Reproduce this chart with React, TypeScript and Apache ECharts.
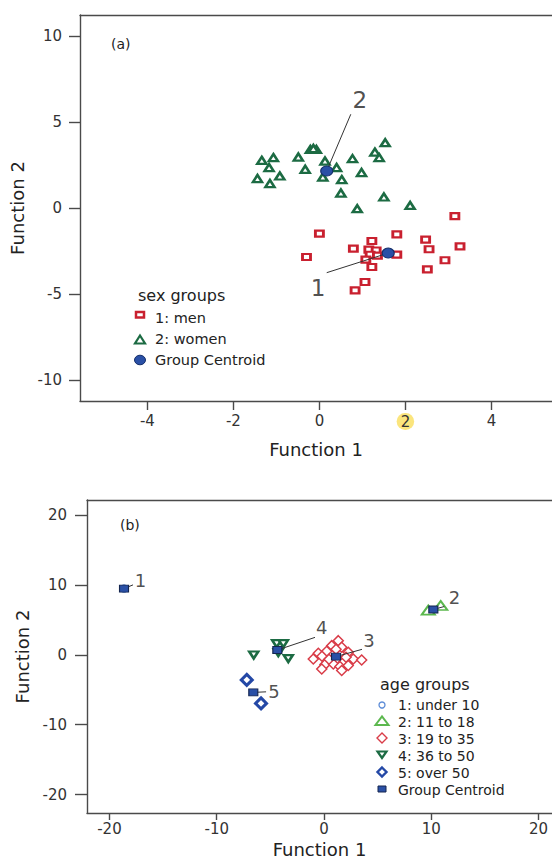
import React, { useEffect, useRef } from 'react';
import * as echarts from 'echarts';

type Pt = [number, number];

// ---- (a) sex groups: discriminant function scores ----
const menScores: Pt[] = [
  [3.15, -0.45], [0.0, -1.47], [0.79, -2.34], [1.22, -1.9], [1.8, -1.51], [2.47, -1.82],
  [2.55, -2.38], [3.27, -2.21], [-0.3, -2.83], [1.15, -2.4], [1.32, -2.45], [1.18, -2.7],
  [1.35, -2.75], [1.08, -2.98], [1.8, -2.69], [1.22, -3.41], [2.92, -3.02], [2.51, -3.55],
  [1.06, -4.28], [0.83, -4.77],
];
const womenScores: Pt[] = [
  [-1.34, 2.79], [-1.07, 2.95], [-1.17, 2.37], [-1.44, 1.73], [-0.92, 1.88], [-1.15, 1.44],
  [-0.49, 2.98], [-0.21, 3.42], [-0.07, 3.42], [-0.14, 3.48], [-0.33, 2.27], [0.13, 2.75],
  [0.4, 2.37], [0.08, 1.82], [0.52, 1.67], [0.77, 2.89], [0.98, 2.08], [1.29, 3.27],
  [1.39, 2.95], [1.53, 3.82], [0.5, 0.89], [0.88, -0.02], [1.5, 0.66], [2.11, 0.17],
];
const sexCentroids: Pt[] = [[1.6, -2.6], [0.17, 2.17]];
const sexCentroidNames = ['1', '2'];
const sexLabelAt: Pt[] = [[-0.03, -4.65], [0.94, 6.28]];
const sexLeaderFrom: Pt[] = [[0.17, -3.74], [0.73, 5.47]];
const sexTicksX = [-4, -2, 0, 2, 4];
const sexTicksY = [-10, -5, 0, 5, 10];

// ---- (b) age groups: discriminant function scores ----
const under10Scores: Pt[] = [[-18.64, 9.47]];
const age11to18Scores: Pt[] = [[9.72, 6.38], [10.88, 7.05]];
const age19to35Scores: Pt[] = [
  [1.33, 2.02], [0.72, 1.31], [1.65, 1.07], [0.25, 0.5], [-0.53, 0.21], [-1.0, -0.6],
  [2.26, 0.36], [2.73, -0.6], [3.51, -0.74], [1.8, -1.07], [0.09, -1.4], [0.87, -1.31],
  [-0.21, -2.02], [1.49, -1.68], [1.65, -2.25], [2.26, -1.54], [-0.19, -0.21], [1.12, 0.78],
  [0.47, -0.64], [2.05, -0.36],
];
const age36to50Scores: Pt[] = [[-4.41, 1.59], [-3.79, 1.59], [-4.26, 0.31], [-3.33, -0.54], [-6.55, -0.03]];
const over50Scores: Pt[] = [[-7.2, -3.59], [-5.87, -6.95]];
const ageCentroids: Pt[] = [[-18.64, 9.47], [10.19, 6.48], [1.12, -0.26], [-4.35, 0.68], [-6.59, -5.38]];
const ageCentroidNames = ['1', '2', '3', '4', '5'];
const ageLabelAt: Pt[] = [[-17.1, 10.6], [12.15, 8.14], [4.19, 2.11], [-0.21, 3.87], [-4.66, -5.24]];
const ageLeaderFrom: Pt[] = [[-17.8, 10.0], [11.2, 6.9], [3.54, 0.78], [-0.84, 2.49], [-5.4, -5.3]];
const ageTicksX = [-20, -10, 0, 10, 20];
const ageTicksY = [-20, -10, 0, 10, 20];

const FONT = '"DejaVu Sans", sans-serif';
const INK = '#222';
const AXIS = { color: '#4a4a4a', width: 1.4 };

const RED = '#c9202f';
const DKGREEN = '#1c6b43';
const CENTROID_BLUE = '#2a50a6';
const LTBLUE = '#5a8ad6';
const LTGREEN = '#5cb84e';
const PINKRED = '#d93c48';
const ROYAL = '#2448a6';

function bottomAxis(grid: number, min: number, max: number, ticks: number[], tickLen: number, margin: number, nameGap: number, extraLabel?: any) {
  return {
    type: 'value', gridIndex: grid, min, max, position: 'bottom',
    axisLine: { show: true, onZero: false, lineStyle: AXIS },
    axisTick: { show: true, length: tickLen, customValues: ticks, lineStyle: AXIS },
    axisLabel: { customValues: ticks, margin, fontSize: 15, color: '#333', fontFamily: FONT, ...(extraLabel || {}) },
    splitLine: { show: false },
    name: 'Function 1', nameLocation: 'middle', nameGap,
    nameTextStyle: { fontSize: 18, color: INK, fontFamily: FONT },
  };
}
function topAxis(grid: number, min: number, max: number) {
  return {
    type: 'value', gridIndex: grid, min, max, position: 'top',
    axisLine: { show: true, onZero: false, lineStyle: AXIS },
    axisTick: { show: false }, axisLabel: { show: false }, splitLine: { show: false },
  };
}
function leftAxis(grid: number, min: number, max: number, ticks: number[], tickLen: number, margin: number, nameGap: number) {
  return {
    type: 'value', gridIndex: grid, min, max,
    axisLine: { show: true, onZero: false, lineStyle: AXIS },
    axisTick: { show: true, length: tickLen, customValues: ticks, lineStyle: AXIS },
    axisLabel: { customValues: ticks, margin, fontSize: 15, color: '#333', fontFamily: FONT },
    splitLine: { show: false },
    name: 'Function 2', nameLocation: 'middle', nameGap, nameRotate: 90,
    nameTextStyle: { fontSize: 18, color: INK, fontFamily: FONT },
  };
}

function leaders(xi: number, yi: number, from: Pt[], to: Pt[]) {
  return {
    type: 'lines', coordinateSystem: 'cartesian2d', xAxisIndex: xi, yAxisIndex: yi, silent: true, z: 3,
    lineStyle: { color: '#333', width: 1, opacity: 1 },
    data: from.map((p, i) => ({ coords: [p, to[i]] })),
  };
}
function labels(xi: number, yi: number, at: Pt[], names: string[], size: number) {
  return {
    type: 'scatter', name: 'centroid labels', xAxisIndex: xi, yAxisIndex: yi, silent: true, z: 6,
    symbolSize: 1, itemStyle: { color: 'rgba(0,0,0,0)' },
    label: { show: true, position: 'inside', formatter: '{b}', fontSize: size, color: INK, fontFamily: FONT },
    data: at.map((p, i) => ({ name: names[i], value: p })),
  };
}

function txt(x: number, y: number, text: string, size: number) {
  return {
    type: 'text', x, y, silent: true,
    style: { text, fill: INK, font: `${size}px ${FONT}`, align: 'left', verticalAlign: 'middle', textAlign: 'left', textVerticalAlign: 'middle' },
  };
}

const option: any = {
  animation: false,
  backgroundColor: '#fff',
  grid: [
    { left: 80, top: 15, width: 472, height: 386 },
    { left: 87, top: 500, width: 465, height: 314 },
  ],
  xAxis: [
    bottomAxis(0, -5.567, 5.409, sexTicksX, 9, 12, 39, {
      formatter: (v: number) => (v === 2 ? '{hl|2}' : String(v)),
      rich: { hl: { backgroundColor: '#fbe57d', borderRadius: 9, padding: [1, 4], fontSize: 15, color: '#333', fontFamily: FONT } },
    }),
    topAxis(0, -5.567, 5.409),
    bottomAxis(1, -22.09, 21.25, ageTicksX, 7, 8, 27),
    topAxis(1, -22.09, 21.25),
  ],
  yAxis: [
    leftAxis(0, -11.2, 11.24, sexTicksY, 11, 18, 49),
    leftAxis(1, -22.63, 22.14, ageTicksY, 12, 20, 56),
  ],
  series: [
    {
      type: 'scatter', name: '1: men', xAxisIndex: 0, yAxisIndex: 0, z: 2,
      symbol: 'rect', symbolSize: [8, 6],
      itemStyle: { color: '#fff', borderColor: RED, borderWidth: 2.5, opacity: 1 },
      data: menScores,
    },
    {
      type: 'scatter', name: '2: women', xAxisIndex: 0, yAxisIndex: 0, z: 2,
      symbol: 'triangle', symbolSize: [9, 7],
      itemStyle: { color: '#fff', borderColor: DKGREEN, borderWidth: 2.5, opacity: 1 },
      data: womenScores,
    },
    leaders(0, 0, sexLeaderFrom, sexCentroids),
    {
      type: 'scatter', name: 'Group Centroid', xAxisIndex: 0, yAxisIndex: 0, z: 5,
      symbol: 'circle', symbolSize: [12, 10],
      itemStyle: { color: CENTROID_BLUE, borderColor: '#16306b', borderWidth: 1, opacity: 1 },
      data: sexCentroids,
    },
    labels(0, 0, sexLabelAt, sexCentroidNames, 23),

    {
      type: 'scatter', name: '1: under 10', xAxisIndex: 2, yAxisIndex: 1, z: 2,
      symbol: 'circle', symbolSize: 7,
      itemStyle: { color: '#fff', borderColor: LTBLUE, borderWidth: 1.5, opacity: 1 },
      data: under10Scores,
    },
    {
      type: 'scatter', name: '2: 11 to 18', xAxisIndex: 2, yAxisIndex: 1, z: 2,
      symbol: 'triangle', symbolSize: [13, 9],
      itemStyle: { color: '#fff', borderColor: LTGREEN, borderWidth: 2, opacity: 1 },
      data: age11to18Scores,
    },
    {
      type: 'scatter', name: '3: 19 to 35', xAxisIndex: 2, yAxisIndex: 1, z: 2,
      symbol: 'diamond', symbolSize: 10,
      itemStyle: { color: '#fff', borderColor: PINKRED, borderWidth: 1.5, opacity: 1 },
      data: age19to35Scores,
    },
    {
      type: 'scatter', name: '4: 36 to 50', xAxisIndex: 2, yAxisIndex: 1, z: 2,
      symbol: 'triangle', symbolRotate: 180, symbolSize: [9, 7],
      itemStyle: { color: '#fff', borderColor: DKGREEN, borderWidth: 2.5, opacity: 1 },
      data: age36to50Scores,
    },
    {
      type: 'scatter', name: '5: over 50', xAxisIndex: 2, yAxisIndex: 1, z: 2,
      symbol: 'diamond', symbolSize: 11,
      itemStyle: { color: '#fff', borderColor: ROYAL, borderWidth: 3, opacity: 1 },
      data: over50Scores,
    },
    leaders(2, 1, ageLeaderFrom, ageCentroids),
    {
      type: 'scatter', name: 'Group Centroid', xAxisIndex: 2, yAxisIndex: 1, z: 5,
      symbol: 'rect', symbolSize: [9, 7],
      itemStyle: { color: CENTROID_BLUE, borderColor: '#14254f', borderWidth: 1, opacity: 1 },
      data: ageCentroids,
    },
    labels(2, 1, ageLabelAt, ageCentroidNames, 18),
  ],
  graphic: [
    txt(111, 44, '(a)', 14),
    txt(120, 525, '(b)', 14),

    // legend (a)
    txt(138, 295, 'sex groups', 16),
    { type: 'rect', silent: true, shape: { x: 136, y: 312, width: 8, height: 5.5 }, style: { fill: '#fff', stroke: RED, lineWidth: 2.5 } },
    { type: 'polygon', silent: true, shape: { points: [[135, 343.5], [145, 343.5], [140, 335.5]] }, style: { fill: '#fff', stroke: DKGREEN, lineWidth: 2.2 } },
    { type: 'ellipse', silent: true, shape: { cx: 140, cy: 360, rx: 5.5, ry: 4.8 }, style: { fill: CENTROID_BLUE, stroke: '#16306b', lineWidth: 1 } },
    txt(155, 318, '1: men', 14.5),
    txt(155, 339, '2: women', 14.5),
    txt(155, 360, 'Group Centroid', 14.5),

    // legend (b)
    txt(380, 684, 'age groups', 16),
    { type: 'circle', silent: true, shape: { cx: 382, cy: 705, r: 3 }, style: { fill: '#fff', stroke: LTBLUE, lineWidth: 1.3 } },
    { type: 'polygon', silent: true, shape: { points: [[375.5, 725], [388.5, 725], [382, 716.5]] }, style: { fill: '#fff', stroke: LTGREEN, lineWidth: 2 } },
    { type: 'polygon', silent: true, shape: { points: [[382, 733], [387, 738], [382, 743], [377, 738]] }, style: { fill: '#fff', stroke: PINKRED, lineWidth: 1.4 } },
    { type: 'polygon', silent: true, shape: { points: [[377.5, 751.5], [386.5, 751.5], [382, 758]] }, style: { fill: '#fff', stroke: DKGREEN, lineWidth: 2.2 } },
    { type: 'polygon', silent: true, shape: { points: [[382, 767.5], [386.5, 772], [382, 776.5], [377.5, 772]] }, style: { fill: '#fff', stroke: ROYAL, lineWidth: 2.4 } },
    { type: 'rect', silent: true, shape: { x: 378, y: 786, width: 8, height: 6 }, style: { fill: CENTROID_BLUE, stroke: '#14254f', lineWidth: 1 } },
    txt(398, 705, '1: under 10', 14),
    txt(398, 722, '2: 11 to 18', 14),
    txt(398, 739, '3: 19 to 35', 14),
    txt(398, 756, '4: 36 to 50', 14),
    txt(398, 773, '5: over 50', 14),
    txt(398, 790, 'Group Centroid', 14),
  ],
};

export default function App() {
  const ref = useRef<HTMLDivElement>(null);
  useEffect(() => {
    const chart = echarts.init(ref.current!, null, { renderer: 'svg' });
    chart.setOption(option);
    return () => chart.dispose();
  }, []);
  return (
    <div style={{ position: 'absolute', left: 0, top: 0, width: 552, height: 859, overflow: 'hidden', background: '#fff' }}>
      <div ref={ref} style={{ width: 552, height: 859 }} />
    </div>
  );
}
